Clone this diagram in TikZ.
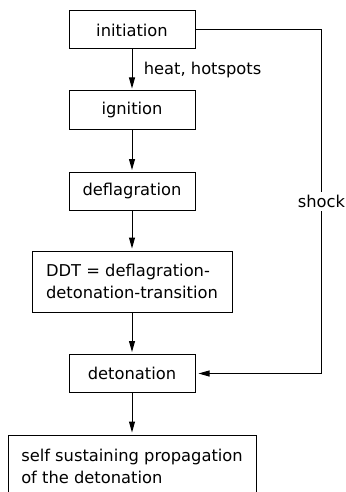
\documentclass[tikz,border=0pt]{standalone}
\usepackage{fontspec}
\setmainfont{DejaVu Sans}
\usepackage{tikz}
\usetikzlibrary{arrows.meta}

\begin{document}
\begin{tikzpicture}[x=1pt,y=-1pt,line width=1pt,
    every node/.style={font=\fontsize{16.3}{22}\selectfont},
    stage/.style={draw,minimum width=126,minimum height=38},
    >={Triangle[length=11pt,width=6pt]}]
            \clip (0,0) rectangle (345,492);
            \node[stage] (1) at (132,30) {initiation};
            \node[stage] (2) at (132,110) {ignition};
            \node[stage] (3) at (132,191.5) {deflagration};
            \node[stage,minimum width=200,minimum height=61,align=left] (4) at (132,281.5) {DDT = deflagration-\\detonation-transition};
            \node[stage] (5) at (132,373.5) {detonation};
            \node[stage,minimum width=248,minimum height=62,align=left] (6) at (132,466) {self sustaining propagation\\of the detonation};
            \draw[->,shorten >=2pt] (1) to node[midway,right=8pt] {heat, hotspots} (2);
            \draw[->,shorten >=2pt] (2) to (3);
            \draw[->,shorten >=2pt] (3) to (4);
            \draw[->,shorten >=2pt] (4) to (5);
            \draw[->,shorten >=2pt] (5) to (6);
            \draw[->,shorten >=3pt] (1.east) -- ++(126,0) |- node[pos=0.25,fill=white] {shock} (5.east);
        \end{tikzpicture}
\end{document}
